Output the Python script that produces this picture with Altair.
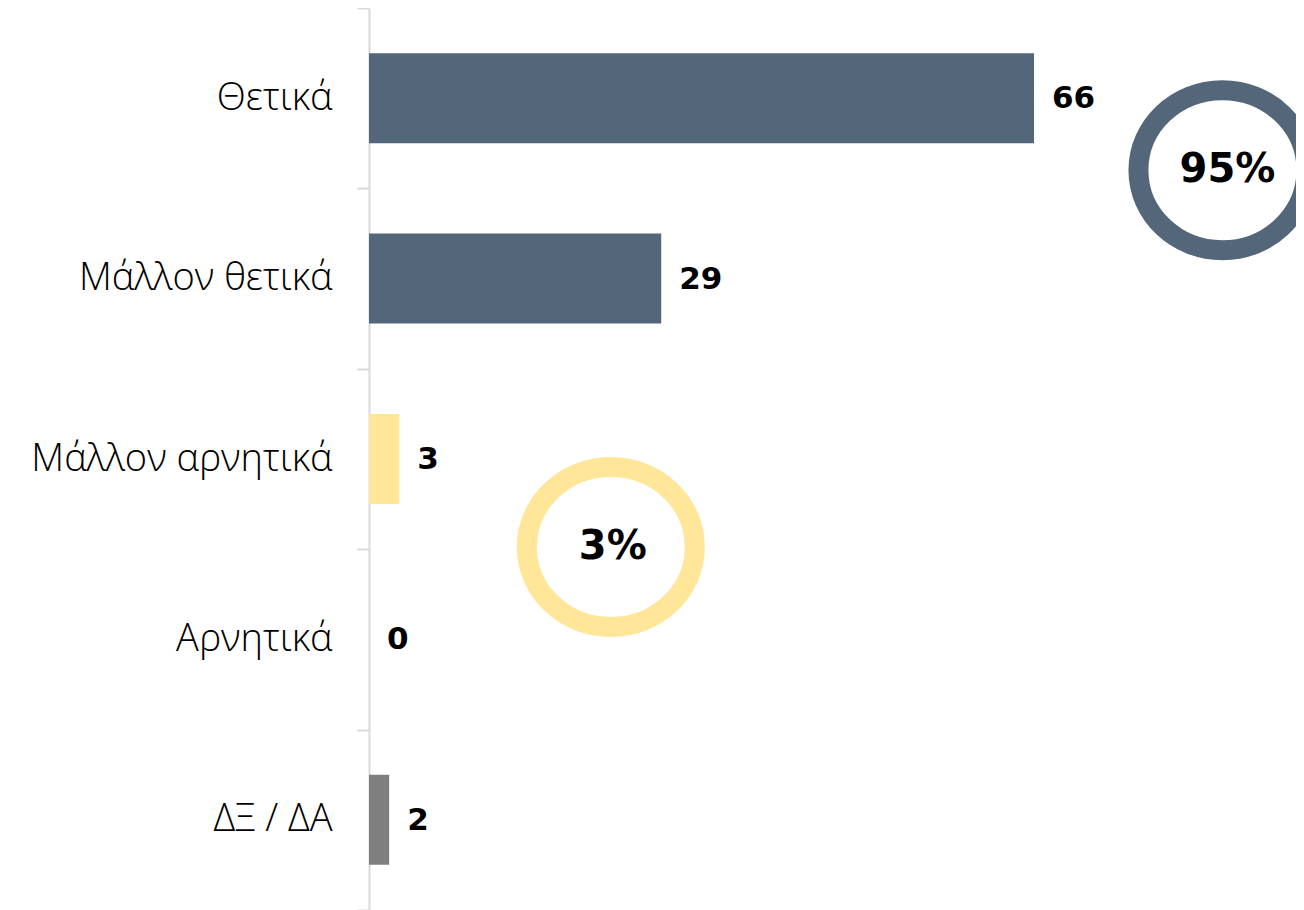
import altair as alt
import pandas as pd

categories = ["Θετικά", "Μάλλον θετικά", "Μάλλον αρνητικά", "Αρνητικά", "ΔΞ / ΔΑ"]
values = [66, 29, 3, 0, 2]
bar_colors = ["#546679", "#546679", "#FFE699", "#FFE699", "#7F7F7F"]

ring_labels = ["95%", "3%"]
ring_x = [84.7, 24.0]
ring_anchor = ["Θετικά", "Μάλλον αρνητικά"]
ring_colors = ["#546679", "#FFE699"]

df = pd.DataFrame({"cat": categories, "val": values, "color": bar_colors})
rings = pd.DataFrame({"label": ring_labels, "x": ring_x, "anchor": ring_anchor, "color": ring_colors})

W, H = 927, 902
LEFT = 361
FONT = "Open Sans"
NUMFONT = "DejaVu Sans"
xscale = alt.Scale(domain=[0, 92], nice=False, zero=True)
yscale = alt.Scale(domain=categories, paddingInner=0, paddingOuter=0)

X = alt.X("val:Q", scale=xscale, axis=None)
Y = alt.Y("cat:N", scale=yscale, sort=categories,
          axis=alt.Axis(title=None, domainColor="#d9d9d9", domainWidth=2,
                        tickColor="#d9d9d9", tickWidth=2, tickSize=12, tickBand="extent",
                        labelPadding=25, labelFontSize=38, labelFont=FONT,
                        labelFontWeight=300, labelColor="#000000", labelLimit=0))

bars = alt.Chart(df).mark_bar(size=90).encode(
    x=X, y=Y, color=alt.Color("color:N", scale=None))

labels = alt.Chart(df).mark_text(align="left", baseline="middle", dx=18, dy=1,
                                 fontSize=31, fontWeight="bold", font=NUMFONT, color="#000000").encode(
    x=X, y=Y, text="val:Q")

ellipse = "M-1.05,0A1.05,1,0,1,0,1.05,0A1.05,1,0,1,0,-1.05,0Z"

def ring(i, yoff, dx):
    d = rings.iloc[[i]]
    rx = alt.X("x:Q", scale=xscale, axis=None)
    ry = alt.Y("anchor:N", scale=yscale, sort=categories)
    r = alt.Chart(d).mark_point(shape=ellipse, size=25600, filled=False, strokeWidth=20,
                                opacity=1, yOffset=yoff).encode(
        x=rx, y=ry, color=alt.Color("color:N", scale=None))
    t = alt.Chart(d).mark_text(align="center", baseline="middle", yOffset=yoff, dx=dx,
                               fontSize=40, fontWeight="bold", font=NUMFONT, color="#000000").encode(
        x=rx, y=ry, text="label:N")
    return [r, t]

chart = alt.layer(bars, labels, *ring(0, 72, 5), *ring(1, 88, 2)).properties(
    width=W, height=H, background="#ffffff",
    padding={"left": LEFT, "top": 0, "right": 0, "bottom": 0},
    autosize=alt.AutoSizeParams(type="none"),
).configure_view(stroke=None)

chart.save("out.html", embed_options={"renderer": "svg", "actions": False})
